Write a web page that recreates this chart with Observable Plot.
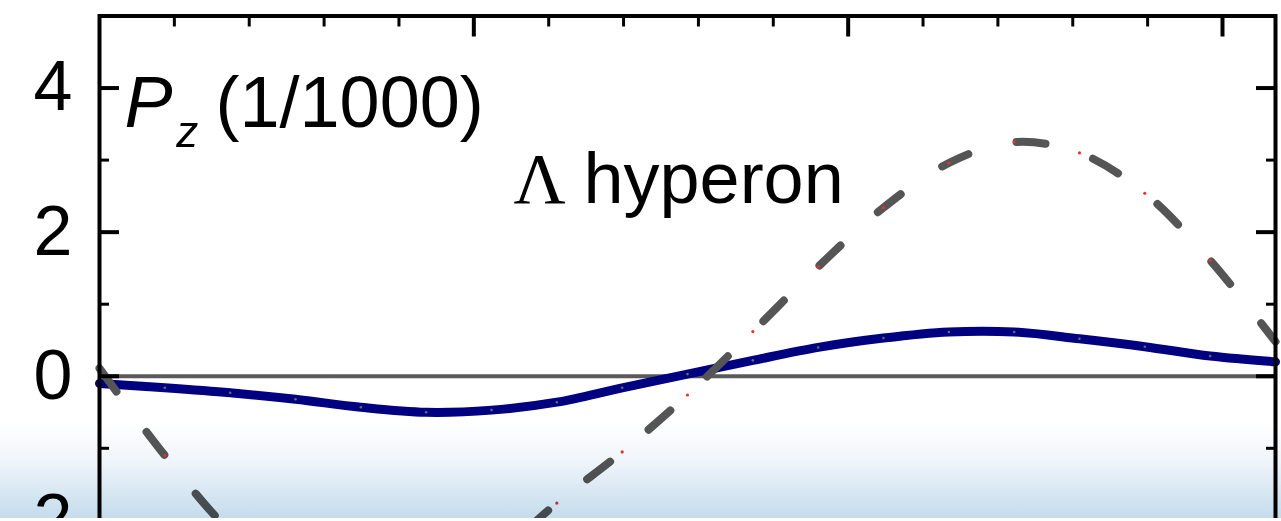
<!DOCTYPE html>
<html><head><meta charset="utf-8">
<script src="https://cdn.jsdelivr.net/npm/d3@7"></script>
<script src="https://cdn.jsdelivr.net/npm/@observablehq/plot@0.6"></script>
<style>
html,body{margin:0;padding:0;background:#fff;}
#wrap{position:relative;width:1281px;height:521px;overflow:hidden;}
#shade{position:absolute;left:0;top:422px;width:1281px;height:96px;background:linear-gradient(to bottom,#ffffff 0%,#f0f5fa 40%,#c5dcec 100%);mix-blend-mode:multiply;pointer-events:none;}
#strip{position:absolute;left:0;top:518px;width:1281px;height:3px;background:#fff;}
</style></head>
<body><div id="wrap"><div id="chart"></div><div id="shade"></div><div id="strip"></div></div>
<script>
// azimuthal angle (degrees)
const phiDeg = [0, 10, 20, 30, 40, 50, 60, 70, 80, 90, 100, 110, 120, 130, 140, 150, 160, 170, 180];
// solid navy curve, P_z in units of 1/1000
const pzSolid = [-0.10, -0.16, -0.23, -0.32, -0.43, -0.50, -0.47, -0.36, -0.16, 0.03, 0.22, 0.40, 0.53, 0.615, 0.615, 0.52, 0.41, 0.28, 0.20];
// dashed grey curve
const pzDashed = [0.11, -1.10, -2.15, -2.85, -3.20, -3.15, -2.55, -1.76, -1.05, -0.26, 0.62, 1.52, 2.34, 2.96, 3.25, 3.10, 2.54, 1.61, 0.48];
// tick values
const xMajorTicks = [1, 2, 3];
const xMinorTicks = [0.2, 0.4, 0.6, 0.8, 1.2, 1.4, 1.6, 1.8, 2.2, 2.4, 2.6, 2.8];
const yMajorTicks = [-4, -2, 0, 2, 4];
const yMinorTicks = [-3, -1, 1, 3];
// annotation texts
const titleMain = ["P"];
const titleSub = ["z"];
const titleUnit = ["(1/1000)"];
const speciesSymbol = ["Λ"];
const speciesName = ["hyperon"];

const rows = phiDeg.map((d, i) => ({phi: d * Math.PI / 180, solid: pzSolid[i], dashed: pzDashed[i]}));

const sans = "'Liberation Sans', Arial, Helvetica, sans-serif";
const serif = "'Liberation Serif', 'Times New Roman', serif";
const fmt = d => String(d);

const tickAxes = [];
for (const a of ["top", "bottom"]) {
  tickAxes.push(Plot.axisX(xMajorTicks, {anchor: a, tickSize: -20, strokeWidth: 4, fill: "none", label: null}));
  tickAxes.push(Plot.axisX(xMinorTicks, {anchor: a, tickSize: -10, strokeWidth: 3, fill: "none", label: null}));
}
for (const a of ["left", "right"]) {
  tickAxes.push(Plot.axisY(yMajorTicks, {anchor: a, tickSize: -20, strokeWidth: 4, fill: "none", label: null}));
  tickAxes.push(Plot.axisY(yMinorTicks, {anchor: a, tickSize: -10, strokeWidth: 3, fill: "none", label: null}));
}

const chart = Plot.plot({
  width: 1281,
  height: 760,
  marginLeft: 99,
  marginRight: 6,
  marginTop: 15.5,
  marginBottom: 24,
  x: {domain: [0, Math.PI], axis: null},
  y: {domain: [-5, 5], axis: null},
  style: {fontFamily: sans, background: "#fff", color: "#000"},
  marks: [
    Plot.ruleY([0], {stroke: "#5a5a5a", strokeWidth: 4}),
    Plot.line(rows, {x: "phi", y: "solid", stroke: "#000080", strokeWidth: 9, curve: "catmull-rom"}),
    Plot.dot(rows, {x: "phi", y: "solid", r: 1.3, fill: "#6a6a6a"}),
    Plot.line(rows, {x: "phi", y: "dashed", stroke: "#555555", strokeWidth: 8, strokeDasharray: "29,50", strokeLinecap: "round", curve: "catmull-rom"}),
    Plot.dot(rows, {x: "phi", y: "dashed", r: 1.6, fill: "#e8322b"}),
    ...tickAxes,
    Plot.axisY(yMajorTicks, {anchor: "left", tickSize: 0, tickPadding: 27, fontSize: 70, label: null, fill: "#000", tickFormat: fmt}),
    Plot.frame({stroke: "#000", strokeWidth: 4}),
    Plot.text(titleMain, {text: d => d, x: 0.067, y: 3.458, fontSize: 72, fontStyle: "italic", textAnchor: "start", lineAnchor: "bottom", fill: "#000"}),
    Plot.text(titleSub, {text: d => d, x: 0.205, y: 3.18, fontSize: 44, fontStyle: "italic", textAnchor: "start", lineAnchor: "bottom", fill: "#000"}),
    Plot.text(titleUnit, {text: d => d, x: 0.310, y: 3.458, fontSize: 72, textAnchor: "start", lineAnchor: "bottom", fill: "#000"}),
    Plot.text(speciesSymbol, {text: d => d, x: 1.106, y: 2.403, fontSize: 72, fontFamily: serif, textAnchor: "start", lineAnchor: "bottom", fill: "#000"}),
    Plot.text(speciesName, {text: d => d, x: 1.293, y: 2.403, fontSize: 72, textAnchor: "start", lineAnchor: "bottom", fill: "#000"})
  ]
});
document.getElementById("chart").appendChild(chart);
</script>
</body></html>
